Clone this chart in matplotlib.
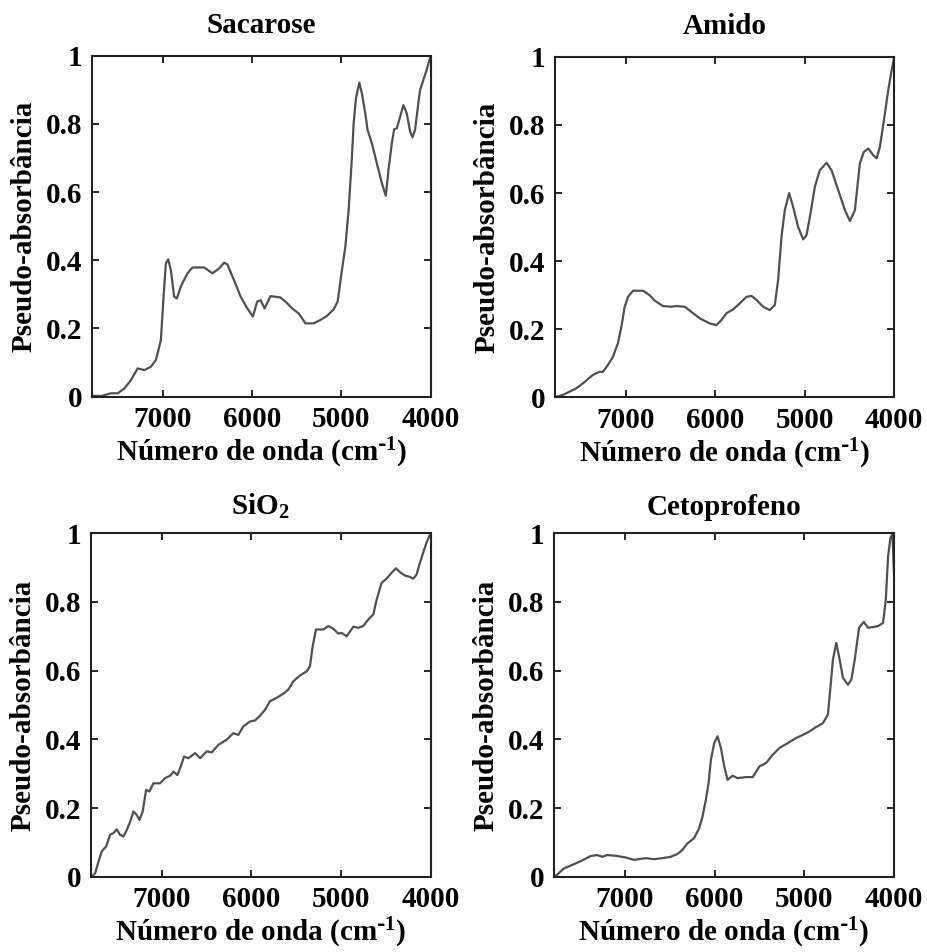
import numpy as np
import matplotlib
matplotlib.use("Agg")
import matplotlib.pyplot as plt

# Data (wavenumber in cm-1, pseudo-absorbance)
sacarose_wn = [7781, 7688, 7576, 7502, 7428, 7353, 7279, 7204, 7130, 7074,
               7019, 6989, 6963, 6937, 6907, 6870, 6840, 6796, 6721, 6665,
               6535, 6442, 6368, 6312, 6275, 6201, 6126, 6052, 5989, 5941,
               5903, 5859, 5792, 5736, 5680, 5606, 5550, 5476, 5401, 5309,
               5234, 5160, 5086, 5041, 4993, 4955, 4918, 4881, 4862, 4836,
               4799, 4770, 4732, 4706, 4658, 4602, 4546, 4502, 4472, 4435,
               4409, 4379, 4342, 4305, 4268, 4230, 4204, 4175, 4138, 4119,
               4082, 4045, 4000]
sacarose_y = [0.003, 0.002, 0.010, 0.010, 0.024, 0.049, 0.083, 0.078, 0.088, 0.108,
              0.166, 0.293, 0.391, 0.403, 0.371, 0.293, 0.288, 0.323, 0.362, 0.379,
              0.379, 0.362, 0.376, 0.393, 0.388, 0.342, 0.293, 0.259, 0.235, 0.279,
              0.283, 0.259, 0.295, 0.293, 0.291, 0.274, 0.259, 0.244, 0.215, 0.215,
              0.225, 0.237, 0.256, 0.279, 0.371, 0.440, 0.547, 0.704, 0.802, 0.875,
              0.921, 0.890, 0.831, 0.782, 0.743, 0.684, 0.626, 0.589, 0.665, 0.743,
              0.784, 0.787, 0.821, 0.855, 0.831, 0.777, 0.761, 0.782, 0.860, 0.899,
              0.929, 0.958, 1.000]

amido_wn = [7794, 7701, 7552, 7477, 7365, 7291, 7253, 7198, 7142, 7086,
            7048, 7011, 6974, 6918, 6806, 6732, 6676, 6583, 6489, 6433,
            6340, 6266, 6173, 6061, 5986, 5930, 5874, 5800, 5725, 5651,
            5595, 5539, 5464, 5390, 5334, 5297, 5259, 5222, 5174, 5129,
            5073, 5017, 4980, 4935, 4887, 4831, 4756, 4700, 4626, 4551,
            4495, 4439, 4384, 4339, 4290, 4234, 4197, 4160, 4104, 4067,
            4029, 4000]
amido_y = [0.000, 0.007, 0.026, 0.041, 0.066, 0.075, 0.075, 0.095, 0.119, 0.159,
           0.207, 0.266, 0.295, 0.313, 0.313, 0.300, 0.284, 0.268, 0.266, 0.268,
           0.266, 0.251, 0.232, 0.217, 0.212, 0.227, 0.247, 0.258, 0.276, 0.295,
           0.298, 0.286, 0.266, 0.256, 0.271, 0.344, 0.472, 0.550, 0.600, 0.559,
           0.500, 0.464, 0.476, 0.540, 0.618, 0.667, 0.689, 0.667, 0.609, 0.550,
           0.518, 0.550, 0.687, 0.721, 0.731, 0.711, 0.702, 0.736, 0.834, 0.902,
           0.961, 1.000]

sio2_wn = [7781, 7743, 7706, 7669, 7621, 7576, 7539, 7502, 7465, 7428,
           7390, 7353, 7316, 7279, 7249, 7212, 7175, 7138, 7093, 7019,
           6963, 6907, 6870, 6825, 6788, 6751, 6703, 6628, 6572, 6498,
           6442, 6368, 6275, 6201, 6145, 6089, 6015, 5959, 5903, 5848,
           5792, 5717, 5643, 5587, 5532, 5457, 5383, 5346, 5316, 5279,
           5197, 5141, 5086, 5030, 4993, 4937, 4862, 4807, 4751, 4695,
           4639, 4602, 4546, 4491, 4435, 4387, 4342, 4286, 4230, 4193,
           4156, 4119, 4082, 4045, 4000]
sio2_y = [0.000, 0.010, 0.044, 0.074, 0.088, 0.122, 0.127, 0.138, 0.122, 0.117,
          0.136, 0.160, 0.190, 0.180, 0.165, 0.190, 0.253, 0.248, 0.272, 0.272,
          0.287, 0.294, 0.306, 0.296, 0.321, 0.350, 0.345, 0.360, 0.345, 0.365,
          0.362, 0.384, 0.399, 0.418, 0.413, 0.438, 0.452, 0.455, 0.469, 0.486,
          0.511, 0.521, 0.533, 0.545, 0.569, 0.586, 0.598, 0.613, 0.671, 0.720,
          0.720, 0.730, 0.722, 0.708, 0.710, 0.700, 0.728, 0.725, 0.730, 0.749,
          0.764, 0.807, 0.856, 0.868, 0.885, 0.898, 0.887, 0.877, 0.873, 0.868,
          0.880, 0.914, 0.944, 0.973, 1.000]

ceto_wn = [7805, 7757, 7682, 7589, 7477, 7384, 7309, 7253, 7198, 7104,
           6993, 6899, 6769, 6676, 6583, 6489, 6415, 6359, 6303, 6229,
           6173, 6135, 6098, 6068, 6042, 6005, 5968, 5930, 5893, 5856,
           5800, 5744, 5651, 5576, 5502, 5427, 5353, 5278, 5185, 5092,
           5017, 4943, 4868, 4794, 4738, 4712, 4682, 4645, 4607, 4570,
           4514, 4477, 4439, 4391, 4339, 4290, 4234, 4179, 4123, 4093,
           4067, 4041, 4019, 4000]
ceto_y = [0.000, 0.005, 0.024, 0.034, 0.047, 0.060, 0.063, 0.058, 0.063, 0.061,
          0.056, 0.049, 0.054, 0.051, 0.054, 0.058, 0.066, 0.078, 0.097, 0.112,
          0.141, 0.175, 0.224, 0.272, 0.340, 0.389, 0.409, 0.375, 0.321, 0.282,
          0.294, 0.287, 0.290, 0.290, 0.321, 0.331, 0.355, 0.375, 0.389, 0.404,
          0.413, 0.423, 0.436, 0.447, 0.472, 0.545, 0.632, 0.681, 0.632, 0.579,
          0.559, 0.574, 0.632, 0.725, 0.742, 0.725, 0.727, 0.730, 0.739, 0.807,
          0.934, 0.987, 0.997, 0.875]

titles = ["Sacarose", "Amido", "SiO$_2$", "Cetoprofeno"]
x_ticks = [7000, 6000, 5000, 4000]
y_ticks = [0, 0.2, 0.4, 0.6, 0.8, 1]
y_ticklabels = ["0", "0.2", "0.4", "0.6", "0.8", "1"]

plt.rcParams["font.family"] = "Liberation Serif"
plt.rcParams["font.weight"] = "bold"
plt.rcParams["mathtext.default"] = "regular"

fig = plt.figure(figsize=(9.28, 9.52), dpi=100)
positions = [
    [0.0991, 0.5833, 0.3650, 0.3582],
    [0.5980, 0.5827, 0.3656, 0.3575],
    [0.0980, 0.0791, 0.3660, 0.3607],
    [0.5970, 0.0791, 0.3665, 0.3607],
]
title_pads = [16.5, 16.5, 13, 13]
series = [(sacarose_wn, sacarose_y), (amido_wn, amido_y),
          (sio2_wn, sio2_y), (ceto_wn, ceto_y)]

for pos, (wn, y), title, tpad in zip(positions, series, titles, title_pads):
    ax = fig.add_axes(pos)
    ax.plot(wn, y, color="#505050", linewidth=1.6)
    ax.set_xlim(7790, 4000)
    ax.set_ylim(0, 1)
    ax.set_xticks(x_ticks)
    ax.set_xticklabels([str(t) for t in x_ticks], fontsize=21, fontweight="bold")
    ax.set_yticks(y_ticks)
    ax.set_yticklabels(y_ticklabels, fontsize=21, fontweight="bold")
    ax.tick_params(direction="in", top=True, right=True, length=5, width=1.2)
    ax.tick_params(axis="x", pad=7)
    ax.tick_params(axis="y", pad=7)
    for s in ax.spines.values():
        s.set_linewidth(1.5)
        s.set_color("#222222")
    ax.set_title(title, fontsize=21, fontweight="bold", pad=tpad)
    ax.set_xlabel(r"Número de onda (cm$^{\text{-}1}$)", fontsize=21,
                  fontweight="bold", labelpad=2)
    ax.set_ylabel("Pseudo-absorbância", fontsize=21, fontweight="bold",
                  labelpad=6)

fig.savefig("out.png", dpi=100)
